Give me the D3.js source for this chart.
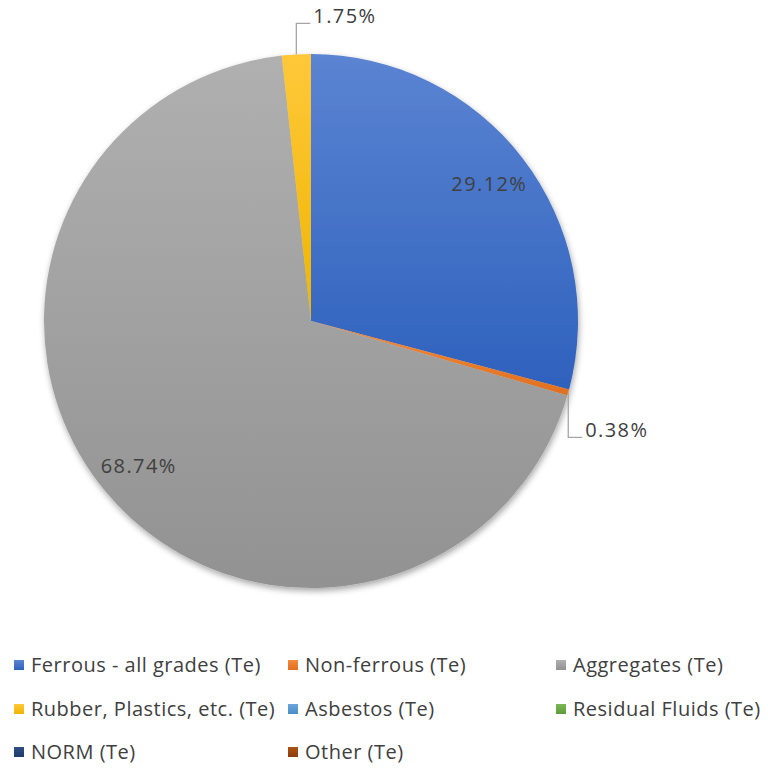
<!DOCTYPE html>
<html>
<head>
<meta charset="utf-8">
<script src="https://cdn.jsdelivr.net/npm/d3@7"></script>
<style>
  html, body { margin: 0; padding: 0; background: #fff; }
  svg { display: block; }
  text { font-family: "Open Sans", Lato, sans-serif; fill: #404040; }
</style>
</head>
<body>
<svg id="chart" width="768" height="769"></svg>
<script>
// Waste stream categories and their share of total tonnage (%)
const categories = [
  "Ferrous - all grades (Te)",
  "Non-ferrous (Te)",
  "Aggregates (Te)",
  "Rubber, Plastics, etc. (Te)",
  "Asbestos (Te)",
  "Residual Fluids (Te)",
  "NORM (Te)",
  "Other (Te)"
];
const shares = [29.12, 0.38, 68.74, 1.75, 0, 0, 0, 0];
const labelText = ["29.12%", "0.38%", "68.74%", "1.75%", "", "", "", ""];

const baseColors = ["#4472C4", "#ED7D31", "#A5A5A5", "#FFC000", "#5B9BD5", "#70AD47", "#264478", "#9E480E"];
// light (top) / dark (bottom) stops of each slice's vertical gradient
const lightStops = ["#5b84d2", "#f28a3e", "#b0b0b0", "#ffc83a", "#6aa6dc", "#7cb855", "#2f5088", "#ab5516"];
const darkStops  = ["#2e61bd", "#e0701f", "#929292", "#eeb500", "#4b8cc8", "#5f9a3a", "#1d3a6a", "#8c3d08"];

const svg = d3.select("#chart");
const cx = 311, cy = 321, R = 267;

const defs = svg.append("defs");
const shadow = defs.append("filter").attr("id", "pieShadow")
  .attr("x", "-10%").attr("y", "-10%").attr("width", "120%").attr("height", "120%");
shadow.append("feDropShadow")
  .attr("dx", 1).attr("dy", 3).attr("stdDeviation", 3)
  .attr("flood-color", "#000").attr("flood-opacity", 0.35);

// each slice shades from light at its top edge to dark at its bottom edge
baseColors.forEach((c, i) => {
  const g = defs.append("linearGradient").attr("id", "grad" + i)
    .attr("x1", 0).attr("y1", 0).attr("x2", 0).attr("y2", 1);
  g.append("stop").attr("offset", "0%").attr("stop-color", lightStops[i]);
  g.append("stop").attr("offset", "100%").attr("stop-color", darkStops[i]);
});

const rows = categories.map((name, i) => ({ name, value: shares[i], label: labelText[i], i }));

const pie = d3.pie().sort(null).value(d => d.value);
const arcs = pie(rows);
const arc = d3.arc().innerRadius(0).outerRadius(R);
const labelArc = d3.arc().innerRadius(225).outerRadius(225);
const edgeArc = d3.arc().innerRadius(R).outerRadius(R);

const pieG = svg.append("g").attr("transform", `translate(${cx},${cy})`);
pieG.append("g").attr("filter", "url(#pieShadow)")
  .selectAll("path")
  .data(arcs.filter(a => a.data.value > 0))
  .join("path")
  .attr("d", arc)
  .attr("fill", d => `url(#grad${d.data.i})`);

// labels that sit inside their slices
const inside = arcs.filter(a => a.data.value > 10);
pieG.selectAll("text.inside")
  .data(inside)
  .join("text")
  .attr("class", "inside")
  .attr("transform", d => `translate(${labelArc.centroid(d)})`)
  .attr("text-anchor", "middle")
  .attr("dy", "0.35em")
  .style("font-size", "20px")
  .style("letter-spacing", "1.4px")
  .text(d => d.data.label);

// small slices get a leader line and an outside label
const leaderOffsets = {
  1: { dy: 45, dx: 14 },   // Non-ferrous: down then right
  3: { dy: -31, dx: 14 }   // Rubber: up then right
};
const outside = arcs.filter(a => a.data.value > 0 && a.data.value <= 10);
outside.forEach(d => {
  const [ex, ey] = edgeArc.centroid(d);
  const off = leaderOffsets[d.data.i];
  const ly = ey + off.dy;
  const lx = ex + off.dx;
  pieG.append("polyline")
    .attr("points", `${ex},${ey} ${ex},${ly} ${lx},${ly}`)
    .attr("fill", "none")
    .attr("stroke", "#a6a6a6")
    .attr("stroke-width", 1.3);
  pieG.append("text")
    .attr("x", lx + 3)
    .attr("y", ly - 7)
    .attr("dy", "0.35em")
    .style("font-size", "20px")
    .style("letter-spacing", "1.4px")
    .text(d.data.label);
});

// legend: three columns, three rows
const colX = [14, 288, 556];
const rowY = [665, 709, 752];
const legend = svg.append("g");
rows.forEach((d, i) => {
  const x = colX[i % 3], y = rowY[Math.floor(i / 3)];
  const g = legend.append("g").attr("transform", `translate(${x},${y})`);
  g.append("rect").attr("x", 0).attr("y", -5).attr("width", 10).attr("height", 10)
    .attr("fill", `url(#grad${i})`);
  g.append("text").attr("x", 17).attr("y", 0).attr("dy", "0.35em")
    .style("font-size", "20px")
    .style("letter-spacing", "0.5px")
    .text(d.name);
});
</script>
</body>
</html>
